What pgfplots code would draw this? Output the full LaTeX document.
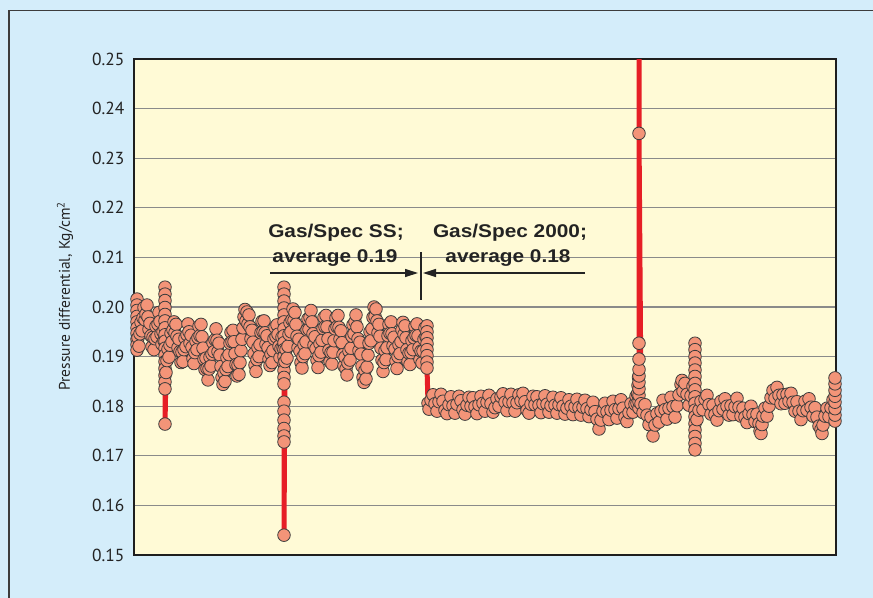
\documentclass[border=0pt]{standalone}
\usepackage{pgfplots}
\pgfplotsset{compat=1.18}
\usepackage{pgfplotstable}
\usepackage{fontspec}
\setmainfont{PT Sans}
\newfontfamily\annfont{Liberation Sans}
\usetikzlibrary{arrows.meta}
\definecolor{bgblue}{RGB}{212,237,250}
\definecolor{plotbg}{RGB}{255,250,214}
\definecolor{gridgray}{RGB}{138,138,138}
\definecolor{linered}{RGB}{230,30,38}
\definecolor{markfill}{RGB}{243,148,120}
\definecolor{markedge}{RGB}{60,60,60}
\definecolor{textdark}{RGB}{35,35,35}

\pgfplotstableread[row sep=\\]{
x y\\
3 0.2016\\ 3 0.2004\\ 3 0.1993\\ 3 0.1981\\ 3 0.1970\\ 3 0.1958\\ 3 0.1947\\ 3 0.1935\\ 3 0.1924\\ 3 0.1913\\
4 0.1938\\ 5 0.1921\\ 6 0.1946\\ 7 0.1969\\ 8 0.1952\\ 9 0.1978\\ 10 0.1999\\ 11 0.1974\\ 12 0.1986\\ 13 0.2004\\
14 0.1980\\ 15 0.1955\\ 16 0.1967\\ 17 0.1942\\ 18 0.1920\\ 19 0.1939\\ 20 0.1914\\ 21 0.1936\\ 22 0.1961\\ 23 0.1940\\
24 0.1965\\ 25 0.1989\\ 26 0.1971\\ 27 0.1946\\ 28 0.1925\\ 29 0.1950\\ 30 0.1932\\
31 0.2040\\ 31 0.2026\\ 31 0.2013\\ 31 0.1999\\ 31 0.1985\\ 31 0.1972\\ 31 0.1958\\ 31 0.1944\\ 31 0.1931\\
31 0.1917\\ 31 0.1903\\ 31 0.1890\\ 31 0.1876\\ 31 0.1862\\ 31 0.1849\\ 31 0.1835\\ 31 0.1764\\
32 0.1868\\ 33 0.1892\\ 34 0.1915\\ 35 0.1899\\ 36 0.1923\\ 37 0.1947\\ 38 0.1930\\ 39 0.1954\\ 40 0.1970\\ 41 0.1948\\
42 0.1965\\ 43 0.1941\\ 44 0.1918\\ 45 0.1935\\ 46 0.1910\\ 47 0.1888\\ 48 0.1909\\ 49 0.1890\\ 50 0.1914\\ 51 0.1937\\
52 0.1920\\ 53 0.1944\\ 54 0.1966\\ 55 0.1950\\ 56 0.1927\\ 57 0.1943\\ 58 0.1919\\ 59 0.1896\\ 60 0.1886\\ 61 0.1908\\
62 0.1931\\ 63 0.1914\\ 64 0.1938\\ 65 0.1961\\ 66 0.1942\\ 67 0.1965\\ 68 0.1940\\ 69 0.1917\\ 70 0.1895\\
71 0.1874\\ 72 0.1897\\ 73 0.1876\\ 74 0.1853\\ 75 0.1875\\ 76 0.1899\\ 77 0.1881\\ 78 0.1905\\ 79 0.1928\\ 80 0.1910\\
81 0.1934\\ 82 0.1956\\ 83 0.1933\\ 84 0.1910\\ 85 0.1927\\ 86 0.1903\\ 87 0.1880\\ 88 0.1858\\ 89 0.1844\\ 90 0.1867\\
91 0.1850\\ 92 0.1874\\ 93 0.1898\\ 94 0.1880\\ 95 0.1904\\ 96 0.1927\\ 97 0.1949\\ 98 0.1930\\ 99 0.1953\\ 100 0.1930\\
101 0.1906\\ 102 0.1884\\ 103 0.1861\\ 104 0.1883\\ 105 0.1864\\
106 0.1888\\ 107 0.1912\\ 108 0.1935\\ 109 0.1958\\ 110 0.1980\\ 111 0.1995\\ 112 0.1972\\ 113 0.1990\\ 114 0.1966\\
115 0.1984\\ 116 0.1960\\ 117 0.1936\\ 118 0.1953\\ 119 0.1929\\ 120 0.1906\\ 121 0.1883\\ 122 0.1870\\ 123 0.1894\\
124 0.1918\\ 125 0.1900\\ 126 0.1924\\ 127 0.1948\\ 128 0.1971\\ 129 0.1950\\ 130 0.1972\\
131 0.1948\\ 132 0.1925\\ 133 0.1942\\ 134 0.1918\\ 135 0.1895\\ 136 0.1882\\ 137 0.1905\\ 138 0.1888\\ 139 0.1912\\
140 0.1936\\ 141 0.1959\\ 142 0.1940\\ 143 0.1964\\ 144 0.1945\\ 145 0.1921\\ 146 0.1898\\ 147 0.1916\\ 148 0.1939\\ 149 0.1918\\
150 0.2040\\ 150 0.2026\\ 150 0.2012\\ 150 0.1998\\ 150 0.1984\\ 150 0.1970\\ 150 0.1956\\ 150 0.1942\\ 150 0.1928\\
150 0.1914\\ 150 0.1900\\ 150 0.1886\\ 150 0.1872\\ 150 0.1858\\ 150 0.1845\\ 150 0.1808\\ 150 0.1790\\ 150 0.1772\\
150 0.1755\\ 150 0.1740\\ 150 0.1728\\ 150 0.1540\\
151 0.1890\\ 152 0.1914\\ 153 0.1897\\ 154 0.1921\\ 155 0.1945\\ 156 0.1968\\ 157 0.1950\\ 158 0.1974\\ 159 0.1996\\
160 0.1973\\ 161 0.1989\\ 162 0.1965\\ 163 0.1941\\ 164 0.1918\\ 165 0.1935\\ 166 0.1911\\ 167 0.1888\\ 168 0.1877\\
169 0.1900\\ 170 0.1924\\ 171 0.1906\\ 172 0.1930\\ 173 0.1954\\ 174 0.1976\\ 175 0.1955\\ 176 0.1979\\ 177 0.1993\\
178 0.1970\\ 179 0.1946\\ 180 0.1923\\ 181 0.1940\\ 182 0.1916\\ 183 0.1893\\ 184 0.1878\\ 185 0.1902\\ 186 0.1926\\
187 0.1909\\ 188 0.1933\\ 189 0.1957\\ 190 0.1979\\ 191 0.1960\\ 192 0.1983\\ 193 0.1960\\ 194 0.1936\\ 195 0.1913\\
196 0.1890\\ 197 0.1908\\ 198 0.1885\\ 199 0.1909\\ 200 0.1932\\
201 0.1956\\ 202 0.1978\\ 203 0.1960\\ 204 0.1983\\ 205 0.1959\\ 206 0.1935\\ 207 0.1952\\ 208 0.1928\\ 209 0.1904\\
210 0.1881\\ 211 0.1899\\ 212 0.1875\\ 213 0.1863\\ 214 0.1887\\ 215 0.1911\\ 216 0.1893\\ 217 0.1917\\ 218 0.1941\\
219 0.1964\\ 220 0.1946\\ 221 0.1970\\ 222 0.1984\\ 223 0.1960\\ 224 0.1936\\ 225 0.1912\\ 226 0.1929\\ 227 0.1905\\
228 0.1881\\ 229 0.1858\\ 230 0.1848\\ 231 0.1872\\ 232 0.1855\\ 233 0.1879\\ 234 0.1903\\ 235 0.1927\\ 236 0.1950\\
237 0.1932\\ 238 0.1956\\ 239 0.1979\\ 240 0.2000\\ 241 0.1981\\ 242 0.1996\\ 243 0.1972\\ 244 0.1948\\ 245 0.1965\\
246 0.1941\\ 247 0.1917\\ 248 0.1893\\ 249 0.1870\\ 250 0.1888\\
251 0.1912\\ 252 0.1894\\ 253 0.1918\\ 254 0.1942\\ 255 0.1965\\ 256 0.1947\\ 257 0.1970\\ 258 0.1946\\ 259 0.1922\\
260 0.1939\\ 261 0.1915\\ 262 0.1891\\ 263 0.1876\\ 264 0.1900\\ 265 0.1924\\ 266 0.1906\\ 267 0.1930\\ 268 0.1954\\
269 0.1969\\ 270 0.1945\\ 271 0.1962\\ 272 0.1938\\ 273 0.1914\\ 274 0.1890\\ 275 0.1907\\ 276 0.1884\\ 277 0.1908\\
278 0.1932\\ 279 0.1914\\ 280 0.1938\\ 281 0.1961\\ 282 0.1943\\ 283 0.1966\\ 284 0.1942\\ 285 0.1918\\ 286 0.1894\\
287 0.1911\\ 288 0.1887\\ 289 0.1911\\ 290 0.1935\\ 291 0.1958\\ 292 0.1940\\
293 0.1962\\ 293 0.1950\\ 293 0.1938\\ 293 0.1926\\ 293 0.1914\\ 293 0.1902\\ 293 0.1889\\ 293 0.1877\\
294 0.1806\\ 295 0.1794\\ 297 0.1812\\ 299 0.1823\\ 301 0.1805\\ 303 0.1790\\ 305 0.1809\\ 307 0.1824\\ 309 0.1810\\
311 0.1792\\ 313 0.1785\\ 315 0.1803\\ 317 0.1819\\ 319 0.1801\\ 321 0.1786\\ 323 0.1804\\ 325 0.1820\\ 327 0.1811\\
329 0.1793\\ 331 0.1784\\ 333 0.1802\\ 335 0.1818\\ 337 0.1800\\ 339 0.1817\\ 341 0.1799\\ 343 0.1785\\ 345 0.1803\\
347 0.1820\\ 349 0.1806\\ 351 0.1790\\ 353 0.1808\\ 355 0.1822\\ 357 0.1805\\ 359 0.1788\\ 361 0.1797\\ 363 0.1815\\
365 0.1800\\ 367 0.1819\\ 369 0.1825\\ 371 0.1808\\ 373 0.1791\\ 375 0.1809\\ 377 0.1824\\ 379 0.1807\\ 381 0.1790\\
383 0.1807\\ 385 0.1823\\ 387 0.1811\\ 389 0.1826\\ 391 0.1809\\ 393 0.1792\\ 395 0.1786\\ 397 0.1804\\ 399 0.1820\\
401 0.1803\\ 403 0.1819\\ 405 0.1802\\ 407 0.1787\\ 409 0.1805\\ 411 0.1821\\ 413 0.1804\\ 415 0.1788\\ 417 0.1801\\
419 0.1818\\ 421 0.1802\\ 423 0.1786\\ 425 0.1803\\ 427 0.1817\\ 429 0.1800\\ 431 0.1784\\ 433 0.1796\\ 435 0.1813\\
437 0.1800\\ 439 0.1783\\ 441 0.1799\\ 443 0.1814\\ 445 0.1797\\ 447 0.1782\\ 449 0.1798\\ 451 0.1812\\ 453 0.1795\\
455 0.1779\\ 457 0.1793\\ 459 0.1808\\ 461 0.1789\\ 463 0.1774\\ 465 0.1754\\ 467 0.1772\\ 469 0.1790\\ 471 0.1806\\
473 0.1789\\ 475 0.1773\\ 477 0.1792\\ 479 0.1810\\ 481 0.1793\\ 483 0.1776\\ 485 0.1795\\ 487 0.1813\\ 489 0.1796\\
491 0.1778\\ 493 0.1769\\ 495 0.1787\\ 497 0.1805\\ 499 0.1788\\ 501 0.1804\\ 502 0.1820\\ 503 0.1806\\ 503.5 0.1825\\
504 0.1842\\ 504.5 0.1858\\
505 0.1796\\ 505 0.1809\\ 505 0.1822\\ 505 0.1835\\ 505 0.1848\\ 505 0.1861\\ 505 0.1874\\ 505 0.1895\\ 505 0.1927\\
505 0.2700\\ 505 0.2350\\
507 0.1805\\ 509 0.1787\\ 511 0.1803\\ 513 0.1782\\ 515 0.1763\\ 517 0.1778\\ 519 0.1740\\ 521 0.1762\\ 523 0.1785\\
525 0.1768\\ 527 0.1790\\ 529 0.1812\\ 531 0.1793\\ 533 0.1774\\ 535 0.1796\\ 537 0.1818\\ 539 0.1799\\ 541 0.1778\\
543 0.1801\\ 545 0.1823\\ 547 0.1844\\ 548 0.1852\\ 549 0.1830\\ 551 0.1846\\ 553 0.1824\\ 555 0.1802\\ 557 0.1821\\ 559 0.1840\\
561 0.1927\\ 561 0.1914\\ 561 0.1900\\ 561 0.1887\\ 561 0.1873\\ 561 0.1860\\ 561 0.1846\\ 561 0.1833\\ 561 0.1819\\
561 0.1806\\ 561 0.1792\\ 561 0.1779\\ 561 0.1765\\ 561 0.1752\\ 561 0.1739\\ 561 0.1725\\ 561 0.1712\\
563 0.1773\\ 565 0.1792\\ 567 0.1810\\ 569 0.1793\\ 571 0.1814\\ 573 0.1822\\ 575 0.1803\\ 577 0.1784\\ 579 0.1802\\
581 0.1783\\ 583 0.1772\\ 585 0.1791\\ 587 0.1810\\ 589 0.1794\\ 591 0.1815\\ 593 0.1800\\ 595 0.1782\\ 597 0.1801\\
599 0.1783\\ 601 0.1799\\ 603 0.1816\\ 605 0.1798\\
607 0.1780\\ 609 0.1796\\ 611 0.1778\\ 613 0.1767\\ 615 0.1785\\ 617 0.1800\\ 619 0.1783\\ 621 0.1769\\ 623 0.1784\\
625 0.1765\\ 626 0.1750\\ 627 0.1745\\ 628 0.1763\\ 629 0.1780\\ 631 0.1796\\ 633 0.1780\\ 635 0.1800\\
637 0.1817\\ 639 0.1832\\ 641 0.1816\\ 643 0.1838\\ 645 0.1822\\ 647 0.1805\\ 649 0.1823\\ 651 0.1806\\ 653 0.1824\\ 655 0.1810\\
657 0.1826\\ 659 0.1808\\ 661 0.1790\\ 663 0.1809\\ 665 0.1790\\ 667 0.1773\\ 669 0.1791\\ 671 0.1810\\ 673 0.1792\\
675 0.1815\\ 677 0.1798\\ 679 0.1780\\ 681 0.1797\\ 683 0.1778\\ 685 0.1760\\ 687 0.1753\\ 688 0.1745\\ 689 0.1762\\
691 0.1780\\ 693 0.1796\\ 695 0.1779\\ 697 0.1797\\ 699 0.1813\\
701 0.1770\\ 701 0.1782\\ 701 0.1795\\ 701 0.1808\\ 701 0.1820\\ 701 0.1832\\ 701 0.1845\\ 701 0.1857\\
}\datatable

\begin{document}
\begin{tikzpicture}
\useasboundingbox (0bp,0bp) rectangle (873bp,-598bp);
\fill[bgblue] (0bp,0bp) rectangle (873bp,-598bp);
\draw[line width=1.4bp, color={rgb,255:red,60;green,60;blue,60}] (9bp,-598bp) -- (9bp,-10.5bp) -- (873bp,-10.5bp);
\begin{axis}[
  at={(134bp,-59bp)}, anchor=north west,
  scale only axis, width=702bp, height=496bp,
  xmin=0, xmax=702, ymin=0.15, ymax=0.25,
  xtick=\empty,
  ytick={0.15,0.16,0.17,0.18,0.19,0.20,0.21,0.22,0.23,0.24,0.25},
  major tick length=0pt,
  ymajorgrids,
  grid style={gridgray, line width=1.2bp},
  axis line style={line width=1.3bp, color={rgb,255:red,30;green,30;blue,30}},
  axis background/.style={fill=plotbg},
  /pgf/number format/fixed,
  /pgf/number format/fixed zerofill,
  /pgf/number format/precision=2,
  /pgf/number format/assume math mode=true,
  yticklabel style={font=\fontsize{17.5}{20}\selectfont, text=textdark, xshift=-6bp},
  clip mode=individual,
]
\addplot[color=linered, line width=5bp, line join=round, mark=*, mark size=6.3bp,
  mark options={fill=markfill, draw=markedge, line width=0.8bp}]
  table[x=x, y=y] {\datatable};
\end{axis}
\node[rotate=90, font=\fontsize{15.5}{17}\selectfont, text=textdark] at (65bp,-296bp) {Pressure differential, Kg/cm\textsuperscript{2}};
\begin{scope}[every node/.style={font=\annfont\bfseries\fontsize{18.5}{20}\selectfont, text=textdark, anchor=base}]
\node at (336bp,-237bp) {\scalebox{1.13}[1]{Gas/Spec SS;}};
\node at (335bp,-262bp) {\scalebox{1.13}[1]{average 0.19}};
\node at (510bp,-237bp) {\scalebox{1.13}[1]{Gas/Spec 2000;}};
\node at (508bp,-262bp) {\scalebox{1.13}[1]{average 0.18}};
\end{scope}
\draw[line width=1.2bp, textdark, -{Triangle[length=13bp,width=8bp]}] (270bp,-273bp) -- (418bp,-273bp);
\draw[line width=1.2bp, textdark, -{Triangle[length=13bp,width=8bp]}] (585bp,-273bp) -- (423bp,-273bp);
\draw[line width=1.2bp, textdark] (421bp,-252bp) -- (421bp,-300bp);
\end{tikzpicture}
\end{document}
